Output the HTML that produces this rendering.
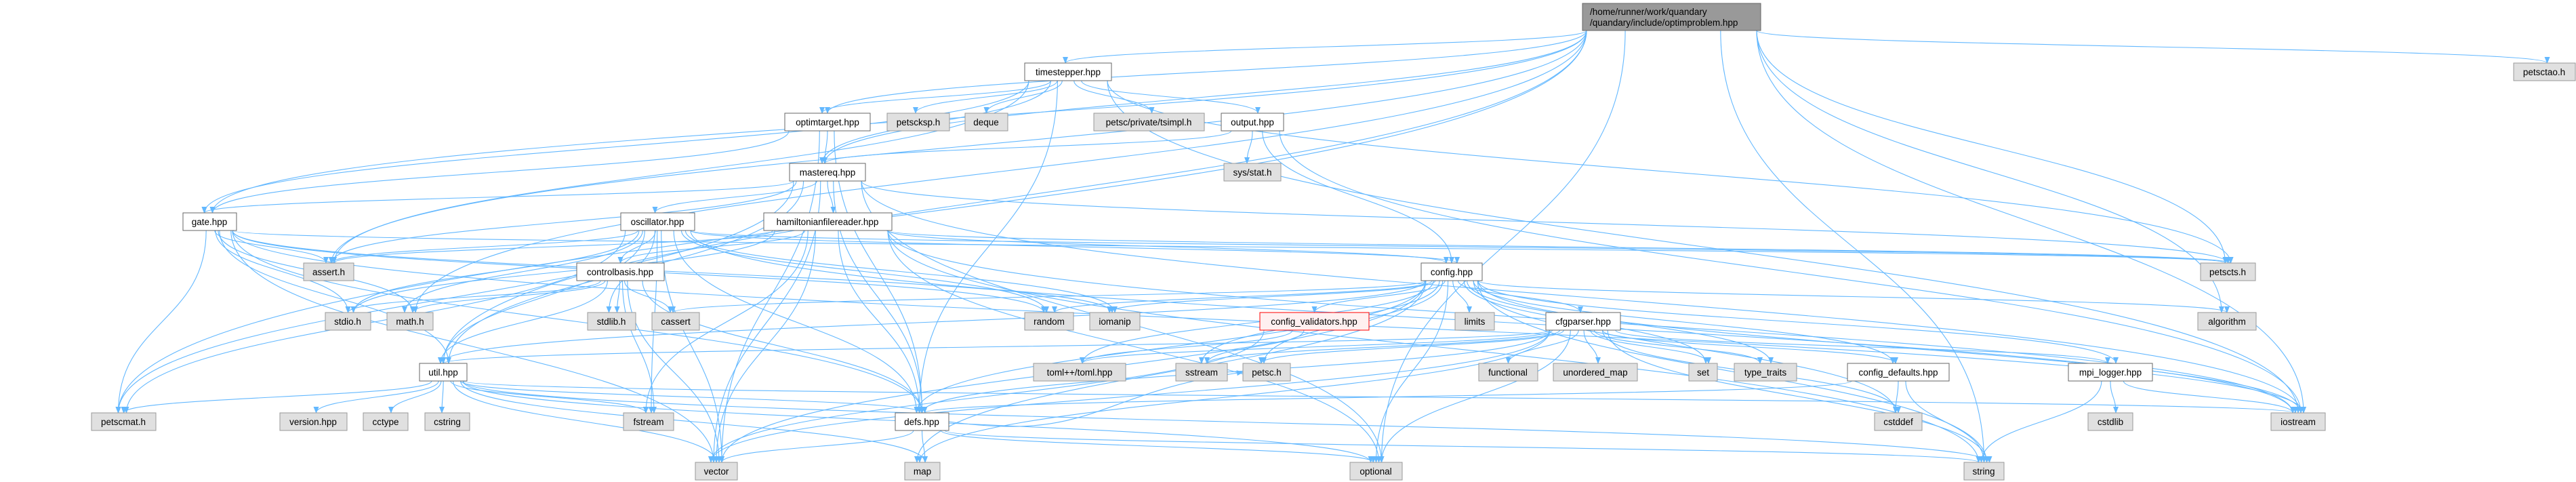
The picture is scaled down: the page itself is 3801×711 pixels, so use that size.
<!DOCTYPE html>
<html><head><meta charset="utf-8">
<style>
html,body{margin:0;padding:0;background:#fff;}
svg{display:block;}
text{font-family:"Liberation Sans",sans-serif;font-size:13.5px;fill:#000;}
</style></head>
<body>
<svg id="g" width="3801" height="711" viewBox="0 0 3801 711" xmlns="http://www.w3.org/2000/svg">
<defs>
<marker id="ar" markerWidth="10" markerHeight="8" refX="9" refY="4" orient="auto" markerUnits="userSpaceOnUse">
<path d="M0,0 L10,4 L0,8 z" fill="#63b8ff"/>
</marker>
</defs>
<g id="edges" fill="none" stroke="#63b8ff" stroke-width="1.1"></g>
<g id="nodes">
<rect x="2335" y="5" width="263" height="40" fill="#999999" stroke="#666"/>
<text x="2346" y="22">/home/runner/work/quandary</text>
<text x="2346" y="38">/quandary/include/optimproblem.hpp</text>

<rect x="1512" y="93" width="128" height="26" fill="#fff" stroke="#666"/><text x="1576" y="111" text-anchor="middle">timestepper.hpp</text>
<rect x="3709" y="93" width="91" height="26" fill="#e0e0e0" stroke="#999"/><text x="3754" y="111" text-anchor="middle">petsctao.h</text>

<rect x="1158" y="167" width="126" height="26" fill="#fff" stroke="#666"/><text x="1221" y="185" text-anchor="middle">optimtarget.hpp</text>
<rect x="1309" y="167" width="92" height="26" fill="#e0e0e0" stroke="#999"/><text x="1355" y="185" text-anchor="middle">petscksp.h</text>
<rect x="1424" y="167" width="63" height="26" fill="#e0e0e0" stroke="#999"/><text x="1455" y="185" text-anchor="middle">deque</text>
<rect x="1614" y="167" width="163" height="26" fill="#e0e0e0" stroke="#999"/><text x="1695" y="185" text-anchor="middle">petsc/private/tsimpl.h</text>
<rect x="1802" y="167" width="92" height="26" fill="#fff" stroke="#666"/><text x="1848" y="185" text-anchor="middle">output.hpp</text>

<rect x="1165" y="241" width="112" height="26" fill="#fff" stroke="#666"/><text x="1221" y="259" text-anchor="middle">mastereq.hpp</text>
<rect x="1806" y="241" width="84" height="26" fill="#e0e0e0" stroke="#999"/><text x="1848" y="259" text-anchor="middle">sys/stat.h</text>

<rect x="270" y="314" width="79" height="26" fill="#fff" stroke="#666"/><text x="309" y="332" text-anchor="middle">gate.hpp</text>
<rect x="916" y="314" width="109" height="26" fill="#fff" stroke="#666"/><text x="970" y="332" text-anchor="middle">oscillator.hpp</text>
<rect x="1127" y="314" width="189" height="26" fill="#fff" stroke="#666"/><text x="1221" y="332" text-anchor="middle">hamiltonianfilereader.hpp</text>

<rect x="448" y="388" width="74" height="26" fill="#e0e0e0" stroke="#999"/><text x="485" y="406" text-anchor="middle">assert.h</text>
<rect x="851" y="388" width="129" height="26" fill="#fff" stroke="#666"/><text x="915" y="406" text-anchor="middle">controlbasis.hpp</text>
<rect x="2097" y="388" width="90" height="26" fill="#fff" stroke="#666"/><text x="2142" y="406" text-anchor="middle">config.hpp</text>
<rect x="3247" y="388" width="81" height="26" fill="#e0e0e0" stroke="#999"/><text x="3287" y="406" text-anchor="middle">petscts.h</text>

<rect x="480" y="461" width="67" height="26" fill="#e0e0e0" stroke="#999"/><text x="513" y="479" text-anchor="middle">stdio.h</text>
<rect x="571" y="461" width="68" height="26" fill="#e0e0e0" stroke="#999"/><text x="605" y="479" text-anchor="middle">math.h</text>
<rect x="867" y="461" width="71" height="26" fill="#e0e0e0" stroke="#999"/><text x="902" y="479" text-anchor="middle">stdlib.h</text>
<rect x="962" y="461" width="70" height="26" fill="#e0e0e0" stroke="#999"/><text x="997" y="479" text-anchor="middle">cassert</text>
<rect x="1512" y="461" width="72" height="26" fill="#e0e0e0" stroke="#999"/><text x="1548" y="479" text-anchor="middle">random</text>
<rect x="1608" y="461" width="74" height="26" fill="#e0e0e0" stroke="#999"/><text x="1645" y="479" text-anchor="middle">iomanip</text>
<rect x="1859" y="461" width="161" height="26" fill="#fff0f0" stroke="#ff0000"/><text x="1939" y="479" text-anchor="middle">config_validators.hpp</text>
<rect x="2147" y="461" width="58" height="26" fill="#e0e0e0" stroke="#999"/><text x="2176" y="479" text-anchor="middle">limits</text>
<rect x="2281" y="461" width="110" height="26" fill="#fff" stroke="#666"/><text x="2336" y="479" text-anchor="middle">cfgparser.hpp</text>
<rect x="3243" y="461" width="86" height="26" fill="#e0e0e0" stroke="#999"/><text x="3286" y="479" text-anchor="middle">algorithm</text>

<rect x="619" y="536" width="70" height="26" fill="#fff" stroke="#666"/><text x="654" y="554" text-anchor="middle">util.hpp</text>
<rect x="1525" y="536" width="136" height="26" fill="#e0e0e0" stroke="#999"/><text x="1593" y="554" text-anchor="middle">toml++/toml.hpp</text>
<rect x="1735" y="536" width="76" height="26" fill="#e0e0e0" stroke="#999"/><text x="1773" y="554" text-anchor="middle">sstream</text>
<rect x="1834" y="536" width="70" height="26" fill="#e0e0e0" stroke="#999"/><text x="1869" y="554" text-anchor="middle">petsc.h</text>
<rect x="2182" y="536" width="87" height="26" fill="#e0e0e0" stroke="#999"/><text x="2225" y="554" text-anchor="middle">functional</text>
<rect x="2292" y="536" width="124" height="26" fill="#e0e0e0" stroke="#999"/><text x="2354" y="554" text-anchor="middle">unordered_map</text>
<rect x="2492" y="536" width="42" height="26" fill="#e0e0e0" stroke="#999"/><text x="2513" y="554" text-anchor="middle">set</text>
<rect x="2559" y="536" width="92" height="26" fill="#e0e0e0" stroke="#999"/><text x="2605" y="554" text-anchor="middle">type_traits</text>
<rect x="2726" y="536" width="150" height="26" fill="#fff" stroke="#666"/><text x="2801" y="554" text-anchor="middle">config_defaults.hpp</text>
<rect x="3052" y="536" width="124" height="26" fill="#fff" stroke="#666"/><text x="3114" y="554" text-anchor="middle">mpi_logger.hpp</text>

<rect x="135" y="609" width="95" height="26" fill="#e0e0e0" stroke="#999"/><text x="182" y="627" text-anchor="middle">petscmat.h</text>
<rect x="413" y="609" width="99" height="26" fill="#e0e0e0" stroke="#999"/><text x="462" y="627" text-anchor="middle">version.hpp</text>
<rect x="536" y="609" width="66" height="26" fill="#e0e0e0" stroke="#999"/><text x="569" y="627" text-anchor="middle">cctype</text>
<rect x="627" y="609" width="66" height="26" fill="#e0e0e0" stroke="#999"/><text x="660" y="627" text-anchor="middle">cstring</text>
<rect x="920" y="609" width="74" height="26" fill="#e0e0e0" stroke="#999"/><text x="957" y="627" text-anchor="middle">fstream</text>
<rect x="1321" y="609" width="79" height="26" fill="#fff" stroke="#666"/><text x="1360" y="627" text-anchor="middle">defs.hpp</text>
<rect x="2766" y="609" width="70" height="26" fill="#e0e0e0" stroke="#999"/><text x="2801" y="627" text-anchor="middle">cstddef</text>
<rect x="3081" y="609" width="66" height="26" fill="#e0e0e0" stroke="#999"/><text x="3114" y="627" text-anchor="middle">cstdlib</text>
<rect x="3351" y="609" width="80" height="26" fill="#e0e0e0" stroke="#999"/><text x="3391" y="627" text-anchor="middle">iostream</text>

<rect x="1026" y="682" width="62" height="26" fill="#e0e0e0" stroke="#999"/><text x="1057" y="700" text-anchor="middle">vector</text>
<rect x="1335" y="682" width="52" height="26" fill="#e0e0e0" stroke="#999"/><text x="1361" y="700" text-anchor="middle">map</text>
<rect x="1992" y="682" width="77" height="26" fill="#e0e0e0" stroke="#999"/><text x="2030" y="700" text-anchor="middle">optional</text>
<rect x="2898" y="682" width="59" height="26" fill="#e0e0e0" stroke="#999"/><text x="2927" y="700" text-anchor="middle">string</text>
</g>
</svg>
<script>
var N={
main:[2335,5,263,40],ts:[1512,93,128,26],tao:[3709,93,91,26],ot:[1158,167,126,26],ksp:[1309,167,92,26],
deque:[1424,167,63,26],tsimpl:[1614,167,163,26],out:[1802,167,92,26],me:[1165,241,112,26],stat:[1806,241,84,26],
gate:[270,314,79,26],osc:[916,314,109,26],ham:[1127,314,189,26],assert:[448,388,74,26],cb:[851,388,129,26],
cfg:[2097,388,90,26],pts:[3247,388,81,26],stdio:[480,461,67,26],math:[571,461,68,26],stdlib:[867,461,71,26],
cassert:[962,461,70,26],random:[1512,461,72,26],iomanip:[1608,461,74,26],cv:[1859,461,161,26],limits:[2147,461,58,26],
cp:[2281,461,110,26],alg:[3243,461,86,26],util:[619,536,70,26],toml:[1525,536,136,26],sstream:[1735,536,76,26],
petsc:[1834,536,70,26],func:[2182,536,87,26],umap:[2292,536,124,26],set:[2492,536,42,26],tt:[2559,536,92,26],
cd:[2726,536,150,26],mpi:[3052,536,124,26],pmat:[135,609,95,26],ver:[413,609,99,26],cctype:[536,609,66,26],
cstring:[627,609,66,26],fstream:[920,609,74,26],defs:[1321,609,79,26],cstddef:[2766,609,70,26],cstdlib:[3081,609,66,26],
ios:[3351,609,80,26],vector:[1026,682,62,26],map:[1335,682,52,26],opt:[1992,682,77,26],str:[2898,682,59,26]};
var E={
main:['ts','ot','tao','ios','alg','pts','str','assert','math','pmat','me','util','gate','opt'],
ts:['ot','ksp','deque','tsimpl','out','me','defs','ios','pts','assert','gate'],
ot:['me','defs','gate','vector'],
out:['stat','me','cfg','ios'],
me:['ham','gate','osc','defs','assert','util','pmat','vector','pts','ios','opt'],
ham:['cfg','defs','vector','opt','assert','ios','fstream','cb','pts','stdio','str'],
gate:['assert','stdio','math','util','pmat','vector','defs','pts','ios','random','iomanip'],
osc:['cb','assert','stdio','math','stdlib','util','pmat','vector','defs','random','iomanip','fstream','cfg','ios','pts'],
cb:['stdio','math','stdlib','cassert','util','defs','vector','fstream'],
cfg:['limits','cp','cv','set','tt','cd','cstddef','opt','str','vector','defs','petsc','sstream','toml','random','iomanip','cassert','alg','ios','mpi','map','util'],
cp:['func','umap','set','tt','cd','cstddef','str','opt','vector','map','defs','toml','sstream','petsc','mpi','util'],
cv:['toml','sstream','vector'],
cd:['cstddef','str','defs'],
mpi:['cstdlib','ios','str'],
util:['pmat','ver','cctype','cstring','fstream','vector','map','str','opt','ios','defs'],
defs:['map','vector','str','opt','petsc']};
var out=[],k=0;
for(var s in E){var a=N[s];E[s].forEach(function(t){var b=N[t];
 var acx=a[0]+a[2]/2,bcx=b[0]+b[2]/2,sx,sy,tx,ty,d;
 k++;
 if(b[1]>a[1]+a[3]-2){
  var f=Math.max(-1,Math.min(1,(bcx-acx)/800));
  sx=acx+f*(a[2]/2-6);
  sy=a[1]+a[3]; tx=bcx+((k%5)-2)*4; ty=b[1];
  var dy=ty-sy;
  d='M'+sx.toFixed(1)+','+sy+' C'+sx.toFixed(1)+','+(sy+dy*0.5).toFixed(1)+' '+tx.toFixed(1)+','+(ty-dy*0.5).toFixed(1)+' '+tx.toFixed(1)+','+ty;
 } else {
  if(bcx>acx){sx=a[0]+a[2];tx=b[0];}else{sx=a[0];tx=b[0]+b[2];}
  sy=a[1]+a[3]/2;ty=b[1]+b[3]/2;
  d='M'+sx+','+sy+' C'+((sx+tx)/2)+','+(sy+30)+' '+((sx+tx)/2)+','+(ty+30)+' '+tx+','+ty;
 }
 out.push('<path d="'+d+'" marker-end="url(#ar)"/>');
});}
document.getElementById('edges').innerHTML=out.join('');
</script>
</body></html>
